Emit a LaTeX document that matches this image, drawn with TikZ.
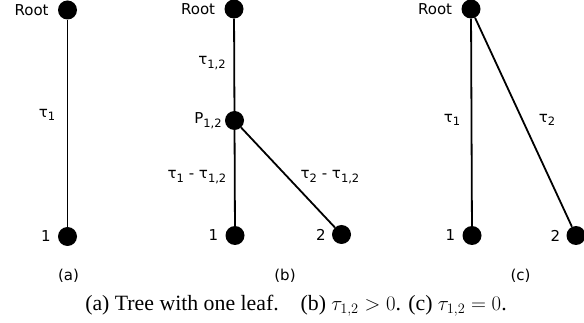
\documentclass[tikz,border=0pt]{standalone}
\usepackage{fontspec}
\setmainfont{Liberation Serif}
\newfontfamily\labelfont{DejaVu Sans}
\usepackage{tikz}

\newcommand{\lowidx}[1]{\raisebox{-0.45ex}{\fontsize{11.5}{11.5}\selectfont #1}}

\begin{document}
\begin{tikzpicture}[x=1pt, y=-1pt,
  vertex/.style={circle, fill=black, inner sep=0pt, minimum size=19pt},
  branch/.style={line width=1.8pt},
  tag/.style={font=\labelfont\fontsize{15}{15}\selectfont, inner sep=1pt},
  every label/.style={font=\labelfont\fontsize{15}{15}\selectfont, inner sep=1pt}]
\useasboundingbox (0,0) rectangle (584,323);
% (a) tree with one leaf
\node[vertex, label={[label distance=8pt]left:Root}] (aroot) at (67.5,10) {};
\node[vertex, label={[label distance=6pt]left:1}] (aone) at (67.5,236.5) {};
\draw[branch] (aroot) -- (aone);
\node[tag] (atau) at (47,115) {τ\lowidx{1}};
\node[tag] (acap) at (68.5,276) {(a)};
% (b) common ancestor below the root
\node[vertex, label={[label distance=8pt]left:Root}] (broot) at (234,9) {};
\node[vertex, label={[label distance=2pt]left:P\lowidx{1,2}}] (bpar) at (234.5,120.5) {};
\node[vertex, label={[label distance=6pt]left:1}] (bone) at (235,235.5) {};
\node[vertex, label={[label distance=5pt]left:2}] (btwo) at (341.5,234.5) {};
\draw[branch] (broot) -- (bpar);
\draw[branch] (bpar) -- (bone);
\draw[branch] (bpar) -- (btwo);
\node[tag] (btau) at (212,63) {τ\lowidx{1,2}};
\node[tag] (btauone) at (197,177) {τ\lowidx{1} - τ\lowidx{1,2}};
\node[tag] (btautwo) at (330,177) {τ\lowidx{2} - τ\lowidx{1,2}};
\node[tag] (bcap) at (285,276) {(b)};
% (c) both leaves hang from the root
\node[vertex, label={[label distance=8pt]left:Root}] (croot) at (471,9) {};
\node[vertex, label={[label distance=6pt]left:1}] (cone) at (472,235.5) {};
\node[vertex, label={[label distance=5pt]left:2}] (ctwo) at (576,235.5) {};
\draw[branch] (croot) -- (cone);
\draw[branch] (croot) -- (ctwo);
\node[tag] (ctauone) at (452,120) {τ\lowidx{1}};
\node[tag] (ctautwo) at (547,120) {τ\lowidx{2}};
\node[tag] (ccap) at (520.5,276) {(c)};
% caption
\node[font=\fontsize{21.8}{21.8}\selectfont] (caption) at (296,306)
  {(a) Tree with one leaf.\quad (b) $\tau_{1,2} > 0$. (c) $\tau_{1,2} = 0$.};
\end{tikzpicture}
\end{document}
